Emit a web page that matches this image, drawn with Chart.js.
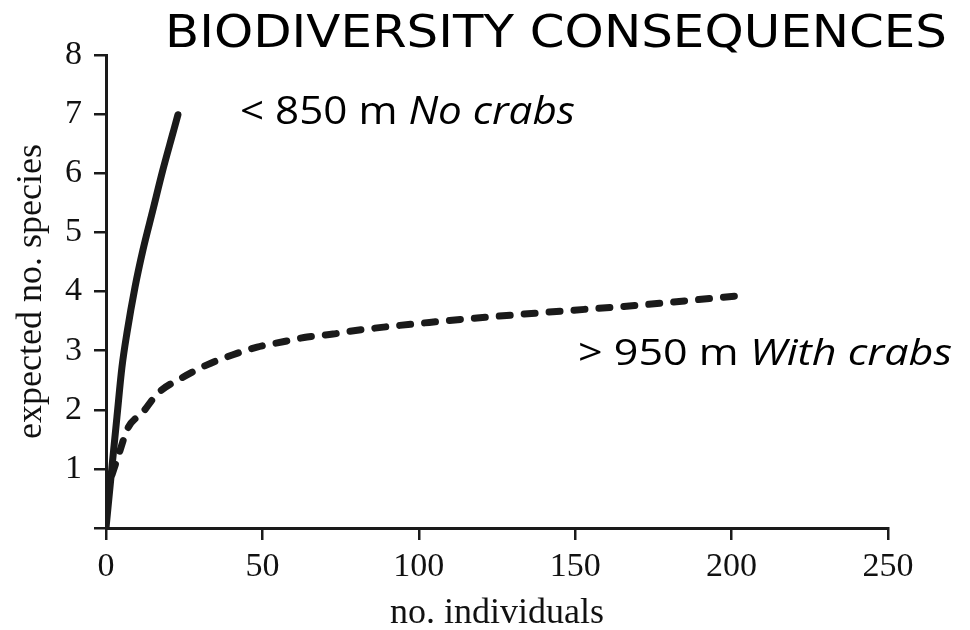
<!DOCTYPE html>
<html>
<head>
<meta charset="utf-8">
<script src="https://cdn.jsdelivr.net/npm/chart.js@4/dist/chart.umd.min.js"></script>
<style>
  html, body { margin: 0; padding: 0; background: #ffffff; }
  #wrap { width: 970px; height: 630px; position: relative; }
</style>
</head>
<body>
<div id="wrap"><canvas id="curveChart"></canvas></div>
<script>
// Rarefaction curves
const noCrabsX = [0, 1.9, 3.5, 5.1, 6.7, 9.3, 11.8, 15.0, 18.2, 21.4, 23.0];
const noCrabsY = [0, 1.03, 1.88, 2.72, 3.30, 4.08, 4.70, 5.38, 6.06, 6.68, 6.99];

const withCrabsX = [1.9, 3.8, 7.0, 11.8, 16.6, 24.6, 32.3, 40.6, 48.3, 56.6, 64.3, 72.6, 77, 105.8, 138.7, 170.7, 202.7, 205];
const withCrabsY = [0.9, 1.20, 1.69, 1.96, 2.28, 2.55, 2.76, 2.93, 3.06, 3.15, 3.23, 3.28, 3.32, 3.49, 3.64, 3.77, 3.93, 3.94];

const xTicks = [0, 50, 100, 150, 200, 250];
const yTicks = [0, 1, 2, 3, 4, 5, 6, 7, 8];

const chartTitle = 'BIODIVERSITY CONSEQUENCES';
const noCrabsLabel = [['< 850 m ', 'normal'], ['No crabs', 'italic']];
const withCrabsLabel = [['> 950 m ', 'normal'], ['With crabs', 'italic']];

const ink = '#1a1a1a';
const serif = "'Liberation Serif', 'Times New Roman', serif";

function toPoints(xs, ys) {
    return xs.map((x, i) => ({ x: x, y: ys[i] }));
}

// draws mixed-style text squeezed to a given width
function drawFitted(ctx, parts, family, size, left, baseline, width) {
    let total = 0;
    parts.forEach(p => {
        ctx.font = p[1] + ' ' + size + 'px ' + family;
        total += ctx.measureText(p[0]).width;
    });
    ctx.save();
    ctx.translate(left, baseline);
    ctx.scale(width / total, 1);
    ctx.fillStyle = '#000';
    ctx.textBaseline = 'alphabetic';
    ctx.textAlign = 'left';
    let x = 0;
    parts.forEach(p => {
        ctx.font = p[1] + ' ' + size + 'px ' + family;
        ctx.fillText(p[0], x, 0);
        x += ctx.measureText(p[0]).width;
    });
    ctx.restore();
}

const textPlugin = {
    id: 'textLabels',
    afterDraw(chart) {
        const ctx = chart.ctx;
        drawFitted(ctx, [[chartTitle, 'normal']], "'Comic Sans MS', 'DejaVu Sans', sans-serif", 45, 165, 47, 782);
        drawFitted(ctx, noCrabsLabel, "'Open Sans', sans-serif", 38, 240, 124, 335);
        drawFitted(ctx, withCrabsLabel, "'Open Sans', sans-serif", 36, 578, 365, 374);
    }
};

const ctx = document.getElementById('curveChart').getContext('2d');

new Chart(ctx, {
    type: 'line',
    data: {
        datasets: [{
            label: '< 850 m No crabs',
            data: toPoints(noCrabsX, noCrabsY),
            borderColor: ink,
            borderWidth: 7,
            borderCapStyle: 'round',
            pointRadius: 0,
            cubicInterpolationMode: 'monotone',
            fill: false
        }, {
            label: '> 950 m With crabs',
            data: toPoints(withCrabsX, withCrabsY),
            borderColor: ink,
            borderWidth: 7,
            borderDash: [11, 14],
            borderCapStyle: 'round',
            pointRadius: 0,
            cubicInterpolationMode: 'monotone',
            fill: false
        }]
    },
    options: {
        responsive: true,
        maintainAspectRatio: false,
        animation: false,
        layout: {
            padding: { left: 0, top: 55, right: 82, bottom: 0 }
        },
        plugins: {
            legend: { display: false },
            tooltip: { enabled: false }
        },
        scales: {
            x: {
                type: 'linear',
                min: 0,
                max: 250,
                afterBuildTicks: (scale) => {
                    scale.ticks = xTicks.map(v => ({ value: v }));
                },
                afterFit: (scale) => { scale.height = 102; },
                grid: {
                    drawOnChartArea: false,
                    drawTicks: true,
                    tickLength: 12,
                    color: ink,
                    lineWidth: 2.5
                },
                border: { display: true, color: ink, width: 3 },
                ticks: {
                    padding: 7,
                    color: '#111',
                    maxRotation: 0,
                    font: { family: serif, size: 34 }
                },
                title: {
                    display: true,
                    text: 'no. individuals',
                    color: '#111',
                    padding: { top: 0, bottom: 0 },
                    font: { family: serif, size: 36, lineHeight: 0.9 }
                }
            },
            y: {
                type: 'linear',
                min: 0,
                max: 8,
                afterBuildTicks: (scale) => {
                    scale.ticks = yTicks.map(v => ({ value: v }));
                },
                afterFit: (scale) => { scale.width = 106; },
                grid: {
                    drawOnChartArea: false,
                    drawTicks: true,
                    tickLength: 12,
                    color: ink,
                    lineWidth: 2.5
                },
                border: { display: true, color: ink, width: 3 },
                ticks: {
                    padding: 12,
                    color: '#111',
                    font: { family: serif, size: 34 },
                    // the figure leaves the origin unlabelled on this axis
                    callback: (value) => value === 0 ? '' : value
                },
                title: {
                    display: true,
                    text: 'expected no. species',
                    color: '#111',
                    padding: { top: 14, bottom: 0 },
                    font: { family: serif, size: 36, lineHeight: 1 }
                }
            }
        }
    },
    plugins: [textPlugin]
});
</script>
</body>
</html>
